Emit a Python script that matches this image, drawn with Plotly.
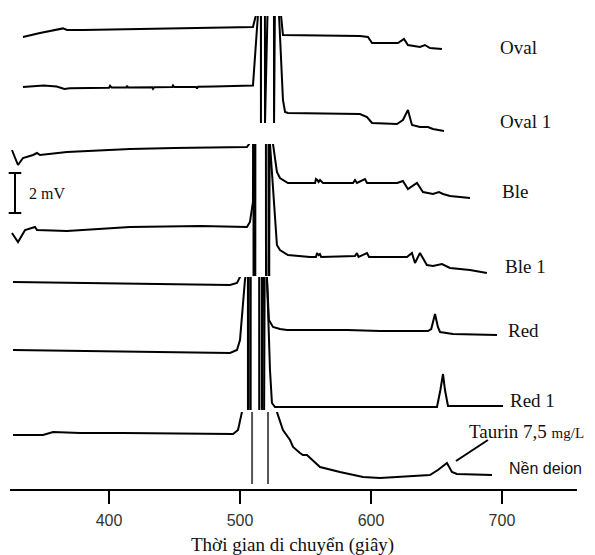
import plotly.graph_objects as go

# ---------------- data (time in s, signal in mV relative to each trace's own baseline) ----------------
OFF = 30.0  # off-scale (saturated) signal

oval_t = [334.3, 347.3, 364.9, 367.9, 380.2, 418.3, 469.5, 492.4, 505.3, 509.9, 512.2, 512.4,
          515.6, 516.0, 516.4, 518.7, 519.1, 519.5, 531.1, 531.3, 532.8,
          591.6, 597.7, 600.8, 620.6, 625.2, 628.2, 637.4, 641.2, 645.0, 654.2]
oval_mv = [0, 0.2, 0.43, 0.35, 0.35, 0.4, 0.44, 0.46, 0.49, 0.5, 1.1, OFF,
           OFF, -4.3, OFF, OFF, -4.3, OFF, OFF, 1.1, 0.1,
           0.05, 0, -0.3, -0.3, -0.1, -0.4, -0.5, -0.4, -0.55, -0.6]

oval1_t = [334.3, 350, 360, 363, 366, 370, 385, 400, 400.8, 402, 413.2, 413.7, 414.5, 433, 433.6, 434.5,
           448.4, 448.9, 449.8, 466.5, 467.2, 468, 480, 495, 505.3, 509.9, 513.7, 513.9,
           525.6, 526.0, 526.4, 529.6, 529.8, 532.8, 534.4, 536.6,
           591.6, 597.0, 600.8, 619.8, 624.4, 628.2, 631.3, 637.4, 643.5, 647.3, 655.7]
oval1_mv = [0, 0.075, 0.025, -0.05, -0.1, -0.065, -0.06, -0.035, 0.06, -0.03, -0.025, 0.06, -0.02, -0.015,
            -0.09, -0.01, 0, 0.075, 0, 0, -0.08, 0.01, 0.025, 0.035, 0.05, 0.075, 3.6, OFF,
            OFF, -1.8, OFF, OFF, 3.6, -0.65, -1.25, -1.3,
            -1.35, -1.5, -1.8, -1.85, -1.65, -1.15, -1.9, -2.0, -2.0, -2.1, -2.2]

ble_t = [325.9, 330.5, 334.3, 342.0, 345.0, 347.3, 367.9, 416.0, 450.0, 490.0, 505.3, 507.0, 507.3,
         510.1, 510.5, 510.9, 519.6, 520.0, 520.4, 525.0, 525.2, 528.2, 530.5, 536.6,
         557.3, 558.0, 559.0, 560.0, 561.1, 563.4, 586.3, 587.8, 589.3,
         595.4, 597.0, 614.5, 620.0, 624.4, 628.2, 635.1, 639.7, 643.5, 647.3, 651.9, 655.0, 660.3, 667.9,
         675.6]
ble_mv = [0.15, -0.6, -0.25, -0.1, 0, -0.1, 0.05, 0.2, 0.25, 0.3, 0.3, 0.45, OFF,
          OFF, -OFF, OFF, OFF, -OFF, OFF, OFF, 0.45, -0.95, -1.25, -1.5,
          -1.5, -1.3, -1.35, -1.45, -1.35, -1.5, -1.5, -1.35, -1.5,
          -1.3, -1.5, -1.5, -1.5, -1.4, -1.8, -1.5, -1.95, -2.0, -2.05, -1.95, -2.05, -2.15, -2.2,
          -2.25]

ble1_t = [325.9, 330.5, 335.9, 343.5, 345.0, 367.9, 416.0, 470.0, 505.3, 507.6, 509.9, 511.0, 511.2,
          511.1, 511.5, 511.9, 521.6, 522.0, 522.4, 522.7, 522.9, 528.2, 530.5, 536.6,
          553.4, 558.0, 558.8, 560.0, 561.0, 562.0, 587.8, 589.3, 590.5,
          597.0, 598.5, 614.5, 627.5, 631.3, 633.6, 637.4, 642.7, 647.3, 654.2, 660.3, 675.6, 688.5]
ble1_mv = [-0.15, -0.6, 0, 0.15, 0, -0.05, 0.15, 0.2, 0.15, 0.4, 1.4, 4.3, OFF,
           OFF, -OFF, OFF, OFF, -OFF, OFF, OFF, 4.3, -0.75, -1.0, -1.25,
           -1.35, -1.35, -1.15, -1.25, -1.2, -1.35, -1.3, -1.15, -1.35,
           -1.15, -1.35, -1.35, -1.35, -1.15, -1.65, -1.15, -1.75, -1.8, -1.7, -1.9, -2.0, -2.15]

red_t = [326.7, 393.1, 492.4, 497.7, 500.0, 500.5,
         505.9, 506.2, 506.5, 514.5, 514.8, 515.1, 520.4, 520.6, 522.1, 525.2, 530.5, 535.9,
         581.7, 606.9, 643.5, 646.0, 648.9, 651.1, 652.7, 662.6, 696.2]
red_mv = [0, -0.05, -0.15, -0.05, 0.25, OFF,
          OFF, -OFF, OFF, OFF, -OFF, OFF, OFF, 0.1, -1.9, -2.25, -2.35, -2.4,
          -2.4, -2.45, -2.45, -2.35, -1.6, -2.25, -2.5, -2.6, -2.65]

red1_t = [326.7, 393.1, 492.4, 497.7, 500.0, 503.8, 504.2, 504.4,
          507.7, 508.0, 508.3, 516.5, 516.8, 517.1, 520.4, 520.6, 522.9, 524.4, 526.7,
          535.9, 581.7, 650.4, 653.0, 655.0, 656.5, 658.8, 700.8]
red1_mv = [0, -0.05, -0.15, 0, 0.5, 3.5, 3.65, OFF,
           OFF, -OFF, OFF, OFF, -OFF, OFF, OFF, 3.65, -1.0, -2.65, -2.85,
           -2.85, -2.85, -2.85, -2.0, -1.2, -2.0, -2.8, -2.8]

deion_t = [326.7, 349.6, 357.3, 377.9, 410.7, 494.7, 498.5, 501.5, 501.8, 528.0, 528.2, 532.8, 538.2, 540.5,
           545.8, 548.0, 551.1, 553.4, 561.1, 576.3, 593.9, 606.9, 645.0, 651.1, 658.0, 661.8, 665.6, 692.4]
deion_mv = [0, 0, 0.15, 0.1, 0.1, 0.05, 0.25, 1.15, OFF, OFF, 1.15, 0.25, -0.25, -0.6,
            -0.9, -1.0, -1.0, -1.15, -1.6, -1.85, -2.1, -2.15, -2.0, -1.75, -1.4, -1.85, -1.95, -2.0]
deion_peak_t = [509.2, 521.4]   # off-scale peaks drawn in grey

names = ["Oval", "Oval 1", "Ble", "Ble 1", "Red", "Red 1", "Nền deion"]
offsets = [-1.85, -4.35, -7.65, -11.5, -14.1, -17.5, -21.75]   # vertical stacking (mV)
panel = ["y", "y", "y2", "y2", "y3", "y3", "y4"]
times = [oval_t, oval1_t, ble_t, ble1_t, red_t, red1_t, deion_t]
signals = [oval_mv, oval1_mv, ble_mv, ble1_mv, red_mv, red1_mv, deion_mv]

x_ticks = [400, 500, 600, 700]
x_title = "Thời gian di chuyển (giây)"
scale_mv = 2

# ---------------- figure ----------------
W, H = 595, 555
SERIF = "Liberation Serif, Times New Roman, serif"
SANS = "Liberation Sans, Arial, sans-serif"

fig = go.Figure()
for t, s, off, ax in zip(times, signals, offsets, panel):
    fig.add_trace(go.Scatter(x=t, y=[v + off for v in s], yaxis=ax, mode="lines",
                             line=dict(color="black", width=2), hoverinfo="skip"))

for pt in deion_peak_t:
    fig.add_trace(go.Scatter(x=[pt, pt], y=[offsets[6] + OFF, offsets[6] - OFF], yaxis="y4", mode="lines",
                             line=dict(color="#555555", width=2), hoverinfo="skip"))

# 2 mV scale bar
bar_t = 328.2
fig.add_trace(go.Scatter(x=[bar_t, bar_t], y=[-8.65, -8.65 - scale_mv], yaxis="y2", mode="lines+markers",
                         line=dict(color="black", width=2),
                         marker=dict(symbol="line-ew", size=9, line=dict(color="black", width=2)),
                         hoverinfo="skip", cliponaxis=False))

def ydom(top_px, bot_px):
    return [1 - bot_px / H, 1 - top_px / H]

fig.update_layout(
    width=W, height=H, autosize=False,
    margin=dict(l=0, r=0, t=0, b=0),
    paper_bgcolor="white", plot_bgcolor="white",
    showlegend=False,
    xaxis=dict(domain=[10 / W, 577 / W], range=[324.4, 757.3], anchor="free", position=1 - 490 / H,
               showgrid=False, zeroline=False, showline=True, linecolor="black", linewidth=1.5,
               ticks="outside", ticklen=13, tickwidth=2, tickcolor="black",
               tickvals=x_ticks, ticktext=[str(v) for v in x_ticks],
               tickfont=dict(family=SANS, size=16, color="#333333"), ticklabelstandoff=3),
    yaxis=dict(domain=ydom(16, 134), range=[-6.7, -0.8], visible=False, anchor="free", position=0),
    yaxis2=dict(domain=ydom(144, 276), range=[-13.8, -7.2], visible=False, anchor="free", position=0),
    yaxis3=dict(domain=ydom(277, 410), range=[-20.5, -13.85], visible=False, anchor="free", position=0),
    yaxis4=dict(domain=ydom(412, 484), range=[-24.2, -20.6], visible=False, anchor="free", position=0),
)

# trace labels
label_pos = [(498, 47), (498, 122), (500, 191), (503, 266), (506, 330), (508, 401)]
for nm, (px, py) in zip(names[:6], label_pos):
    fig.add_annotation(text=nm, xref="paper", yref="paper", x=px / W, y=1 - py / H,
                       xanchor="left", yanchor="middle", showarrow=False,
                       font=dict(family=SERIF, size=19, color="#111111"))
fig.add_annotation(text=names[6], xref="paper", yref="paper", x=507 / W, y=1 - 468 / H,
                   xanchor="left", yanchor="middle", showarrow=False,
                   font=dict(family=SANS, size=16, color="#111111"))
fig.add_annotation(text="Taurin 7,5 <span style='font-size:15px'>mg/L</span>", xref="paper", yref="paper",
                   x=467 / W, y=1 - 431 / H, xanchor="left", yanchor="middle", showarrow=False,
                   font=dict(family=SERIF, size=19, color="#111111"))
fig.add_shape(type="line", xref="x", yref="y4", x0=664.9, y0=-23.05, x1=689.3, y1=-22.0,
              line=dict(color="black", width=2))

fig.add_annotation(text=f"{scale_mv} mV", xref="paper", yref="paper", x=27 / W, y=1 - 193 / H,
                   xanchor="left", yanchor="middle", showarrow=False,
                   font=dict(family=SERIF, size=16, color="#111111"))
fig.add_annotation(text=x_title, xref="paper", yref="paper", x=292 / W, y=1 - 545 / H,
                   xanchor="center", yanchor="middle", showarrow=False,
                   font=dict(family=SERIF, size=19, color="#111111"))

fig.write_html("out.html")
